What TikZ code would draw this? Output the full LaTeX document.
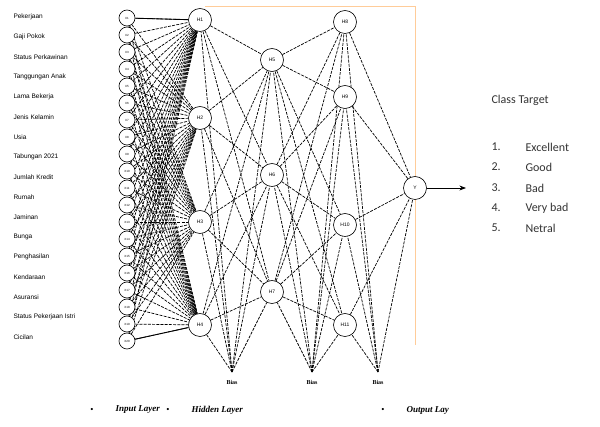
\documentclass[tikz,border=0pt]{standalone}
\usepackage{fontspec}
\setmainfont{Liberation Serif}
\newfontfamily\lblfont{Liberation Sans}
\newfontfamily\clsfont{Carlito}
\usetikzlibrary{arrows.meta,backgrounds}

\begin{document}
\begin{tikzpicture}[x=1pt, y=-1pt, >=Stealth,
  innode/.style={circle, draw, line width=0.6pt, fill=white, minimum size=16pt, inner sep=0pt, font=\lblfont\fontsize{3}{3}\selectfont},
  hidnode/.style={circle, draw, line width=0.6pt, fill=white, minimum size=23pt, inner sep=0pt, font=\lblfont\fontsize{5}{5}\selectfont},
  link/.style={line width=0.7pt, dash pattern=on 3pt off 1.2pt},
  feat/.style={anchor=west, font=\lblfont\fontsize{6.5}{7}\selectfont},
  cls/.style={anchor=west, text=black!80, font=\clsfont\fontsize{12}{13}\selectfont},
  legend/.style={anchor=west, font=\bfseries\itshape\fontsize{9}{9}\selectfont},
  biaslbl/.style={font=\bfseries\fontsize{6}{6}\selectfont}]
  \useasboundingbox (0,0) rectangle (600,427);

  % frame
  \draw[orange!40, line width=0.7pt] (205,6) -- (415,6) -- (415,345);

  % input features
  \foreach \k/\txt in {1/Pekerjaan, 2/Gaji Pokok, 3/Status Perkawinan, 4/Tanggungan Anak,
      5/Lama Bekerja, 6/Jenis Kelamin, 7/Usia, 8/Tabungan 2021, 9/Jumlah Kredit,
      10/Rumah, 11/Jaminan, 12/Bunga, 13/Penghasilan, 14/Kendaraan, 15/Asuransi,
      16/Status Pekerjaan Istri, 17/Cicilan}
    \node[feat] (f\k) at (10,{17+20*(\k-1)}) {\txt};

  % input layer
  \foreach \i in {1,...,20}
    \node[innode] (in\i) at (127,{18+17*(\i-1)}) {X\i};

  % hidden layers
  \node[hidnode] (h1) at (200,20) {H1};
  \node[hidnode] (h2) at (200,118) {H2};
  \node[hidnode] (h3) at (200,222) {H3};
  \node[hidnode] (h4) at (200,325) {H4};
  \node[hidnode] (h5) at (272,60) {H5};
  \node[hidnode] (h6) at (272,175) {H6};
  \node[hidnode] (h7) at (272,292) {H7};
  \node[hidnode] (h8) at (345,22) {H8};
  \node[hidnode] (h9) at (345,97) {H9};
  \node[hidnode] (h10) at (345,225) {H10};
  \node[hidnode] (h11) at (345,325) {H11};

  % output
  \node[hidnode] (y) at (415,188) {Y};
  \coordinate (yout) at (466,188);

  % bias points
  \coordinate (b1) at (232,372);
  \coordinate (b2) at (312,372);
  \coordinate (b3) at (378,372);
  \node[biaslbl] (bl1) at (232,382) {Bias};
  \node[biaslbl] (bl2) at (312,382) {Bias};
  \node[biaslbl] (bl3) at (378,382) {Bias};

  \begin{pgfonlayer}{background}
  % input -> hidden 1
  \foreach \i in {1,...,20}
    \foreach \j in {1,...,4}
      \draw[link] (in\i) -- (h\j);
  \draw[line width=0.9pt] (in1) -- (h1);
  \draw[line width=0.9pt] (in20) -- (h4);

  % hidden 1 -> hidden 2
  \foreach \i in {1,...,4}
    \foreach \j in {5,6,7}
      \draw[link] (h\i) -- (h\j);

  % hidden 2 -> hidden 3
  \foreach \i in {5,6,7}
    \foreach \j in {8,...,11}
      \draw[link] (h\i) -- (h\j);

  % hidden 3 -> output
  \foreach \i in {8,...,11}
    \draw[link] (h\i) -- (y);

  % bias links
  \foreach \j in {1,...,7}
    \draw[link] (b1) -- (h\j);
  \foreach \j in {5,...,11}
    \draw[link] (b2) -- (h\j);
  \foreach \j in {8,...,11}
    \draw[link] (b3) -- (h\j);
  \draw[link] (b3) -- (y);
  \end{pgfonlayer}

  % output arrow
  \draw[->, line width=0.8pt] (y) -- (yout);

  % class target
  \node[cls] (ct) at (488,100) {Class Target};
  \foreach \k/\txt/\yy in {1/Excellent/147, 2/Good/167, 3/Bad/188, 4/Very bad/208, 5/Netral/228} {
    \node[cls] (n\k) at (488,\yy) {\k.};
    \node[cls] (c\k) at (522,\yy) {\txt};
  }

  % legend
  \node[font=\fontsize{9}{9}\selectfont] (d1) at (92,410) {\textbullet};
  \node[legend] (l1) at (112,410) {Input Layer};
  \node[font=\fontsize{9}{9}\selectfont] (d2) at (168,410) {\textbullet};
  \node[legend] (l2) at (188,410) {Hidden Layer};
  \node[font=\fontsize{9}{9}\selectfont] (d3) at (383,410) {\textbullet};
  \node[legend] (l3) at (403,410) {Output Lay};
\end{tikzpicture}
\end{document}
